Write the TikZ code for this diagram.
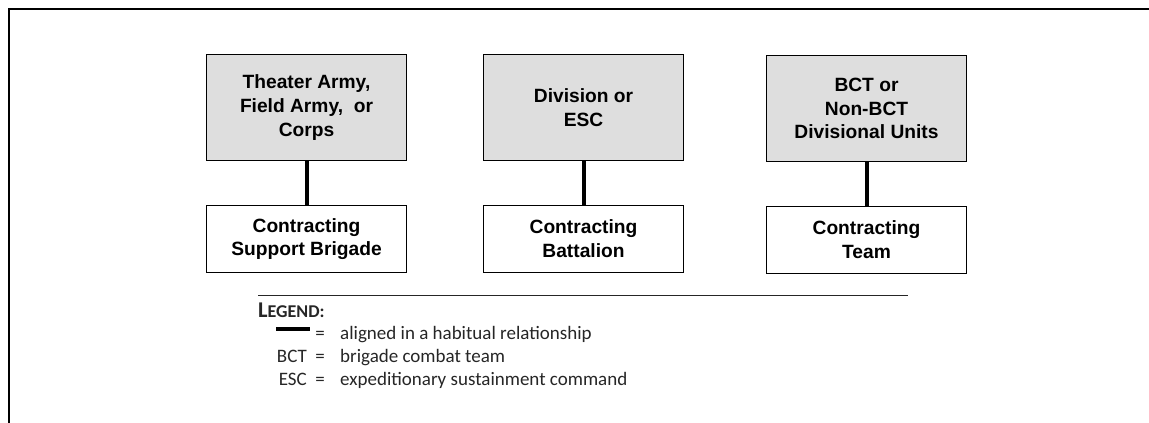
\documentclass[tikz,border=0pt]{standalone}
\usepackage{fontspec}
\setmainfont{Liberation Sans}
\newfontfamily\legendfont{Carlito}
\begin{document}
\begin{tikzpicture}[x=1pt,y=-1pt,
  unitbox/.style={draw=black,line width=1.8pt,inner sep=0pt,align=center,
    minimum width=200pt,font=\fontsize{19.2}{23.8}\selectfont\bfseries},
  parentbox/.style={unitbox,fill=black!13,minimum height=106pt},
  childbox/.style={unitbox,fill=white,minimum height=67pt},
  habitual/.style={line width=4pt,black},
  lgd/.style={inner sep=0pt,text=black!85,font=\fontsize{19}{23}\selectfont\legendfont}]
\useasboundingbox (0,0) rectangle (1149,423);
\fill[white] (0,0) rectangle (1149,423);
% clipped outer frame: only the top and left edges show
\draw[line width=2.2pt] (9,423) -- (9,9) -- (1149,9);

% echelons and their contracting elements
\node[parentbox] (theater) at (306.5,107.5) {Theater Army,\\Field Army,\ \ or\\Corps};
\node[parentbox] (division) at (583.5,107.5) {Division or\\ESC};
\node[parentbox] (bct) at (866.5,108.5) {BCT or\\Non-BCT\\Divisional Units};
\node[childbox] (csb) at (306.5,239) {Contracting\\Support Brigade};
\node[childbox] (cbn) at (583.5,239) {Contracting\\Battalion};
\node[childbox] (cteam) at (866.5,240) {Contracting\\Team};

\draw[habitual] (theater) -- (csb);
\draw[habitual] (division) -- (cbn);
\draw[habitual] (bct) -- (cteam);

% legend
\coordinate (rulel) at (258,295.5);
\coordinate (ruler) at (908,295.5);
\draw[line width=1.4pt,black!85] (rulel) -- (ruler);
\node[lgd,anchor=base west] (lgdhead) at (258,317)
  {\bfseries\fontsize{22.5}{23}\selectfont L\fontsize{18}{23}\selectfont EGEND:};

\coordinate (samplel) at (276,329);
\coordinate (sampler) at (310,329);
\draw[habitual] (samplel) -- (sampler);
\node[lgd,anchor=base] (eq1) at (320,339) {=};
\node[lgd,anchor=base west] (def1) at (340,339) {aligned in a habitual relationship};

\node[lgd,anchor=base east] (abbr2) at (307,362) {BCT};
\node[lgd,anchor=base] (eq2) at (320,362) {=};
\node[lgd,anchor=base west] (def2) at (340,362) {brigade combat team};

\node[lgd,anchor=base east] (abbr3) at (307,385) {ESC};
\node[lgd,anchor=base] (eq3) at (320,385) {=};
\node[lgd,anchor=base west] (def3) at (340,385) {expeditionary sustainment command};
\end{tikzpicture}
\end{document}
